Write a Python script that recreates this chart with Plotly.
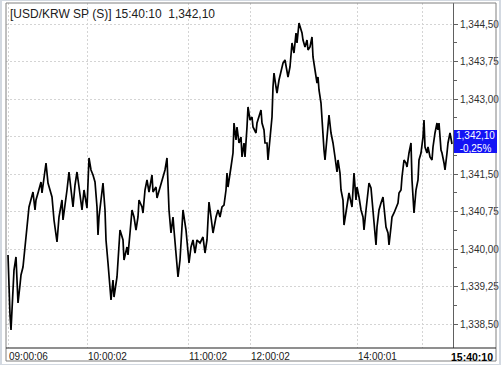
import plotly.graph_objects as go

# ---- data (tick number, price), per session block ----
seg_0900 = [(0,1339.88),(1,1339.18),(2,1338.68),(3,1338.38),(4,1338.78),(5,1339.28),(6,1339.58),(8,1339.84),(9,1339.38),(10,1338.92),(12,1339.28),(13,1339.48),(15,1339.64),(17,1339.98),(19,1340.44),(21,1340.84),(23,1340.98),(25,1341.14),(27,1340.78),(28,1340.98),(30,1341.12),(33,1341.34),(34,1341.12),(36,1341.38),(38,1341.72),(40,1341.32),(42,1341.18),(44,1341.04),(46,1340.58),(49,1340.14),(51,1340.64),(54,1340.98),(55,1340.58),(57,1340.84),(59,1341.18),(61,1341.54),(64,1341.04),(65,1340.84),(67,1341.28),(69,1341.54),(71,1341.24),(74,1340.78),(76,1341.18)]
seg_1000 = [(79,1340.82),(81,1341.82),(83,1341.58),(85,1341.48),(87,1341.34),(89,1340.84),(90,1340.28),(91,1340.64),(93,1341.04),(95,1341.32),(97,1340.78),(98,1340.18),(100,1339.72),(102,1339.18),(103,1338.98),(105,1339.38),(106,1339.04),(109,1339.44),(110,1339.78),(112,1340.38),(115,1340.18),(116,1339.78),(119,1340.04),(120,1339.88),(122,1340.32),(124,1340.78),(126,1340.64),(128,1340.38),(130,1340.64),(131,1340.98),(134,1340.84),(135,1340.72),(137,1341.18),(139,1341.38),(141,1341.14),(144,1341.48),(145,1341.14),(148,1341.24),(149,1341.02),(152,1341.24),(155,1341.48),(157,1341.58),(159,1341.82),(160,1341.18),(161,1340.78),(163,1340.32),(165,1340.64),(166,1340.38),(168,1339.92),(169,1339.64),(170,1339.44),(172,1339.78),(174,1340.38),(175,1340.78),(178,1340.38),(179,1340.18)]
seg_1100 = [(181,1339.72),(183,1340.04),(185,1340.18),(187,1339.92),(189,1340.18),(192,1340.12),(195,1340.24),(197,1339.92),(199,1340.18),(200,1340.58),(201,1340.94),(203,1340.64),(205,1340.32),(208,1340.64),(210,1340.78),(212,1340.64),(214,1340.84),(216,1340.88),(218,1341.18),(219,1341.52),(220,1341.24),(223,1341.64),(225,1341.92),(226,1342.52),(228,1342.18),(229,1342.44),(231,1342.12),(233,1342.24),(234,1341.84),(236,1342.12),(237,1341.84),(239,1342.44),(240,1342.84)]
seg_1200 = [(242,1342.58),(244,1342.64),(245,1342.44),(248,1342.32),(249,1342.52),(251,1342.64),(253,1342.78),(254,1342.52),(256,1342.38),(257,1342.12),(259,1342.12),(260,1341.78),(262,1342.24),(264,1342.64),(265,1343.24),(266,1343.52),(268,1343.24),(269,1343.12),(271,1343.38),(273,1343.58),(275,1343.72),(277,1343.78),(279,1343.58),(280,1343.44),(282,1343.64),(284,1344.12),(286,1343.92),(288,1344.32),(289,1344.12),(291,1344.52),(294,1344.32),(295,1344.18),(297,1344.04),(299,1344.18),(300,1343.98),(302,1344.04),(304,1344.24),(305,1343.84),(307,1343.58),(309,1343.32),(310,1343.44),(311,1343.18),(313,1342.92),(314,1342.58),(315,1342.18),(316,1341.98),(317,1341.78),(319,1342.32),(321,1342.68),(323,1342.32),(325,1342.12),(327,1341.84),(329,1341.54),(330,1341.78),(332,1341.52),(333,1341.18),(335,1340.98),(336,1340.48),(338,1340.72),(340,1340.98),(341,1341.12),(344,1340.84),(345,1341.32),(346,1341.52),(348,1340.98)]
seg_1400 = [(349,1341.24),(351,1341.04),(353,1340.78),(355,1340.64),(356,1340.38),(358,1340.78),(359,1340.98),(361,1341.32),(363,1341.22),(365,1340.78),(366,1340.52),(368,1340.08),(369,1340.44),(371,1340.78),(373,1340.92),(375,1341.04),(376,1340.84),(378,1340.44),(380,1340.32),(381,1340.08),(383,1340.44),(384,1340.64),(386,1340.72),(388,1340.84),(390,1340.92),(391,1341.12),(393,1341.18),(394,1341.44),(396,1341.78),(398,1341.72),(399,1341.64),(401,1341.92),(403,1342.12),(404,1341.38),(405,1341.04),(406,1340.72),(408,1341.18),(410,1341.38),(411,1341.78),(413,1341.92),(415,1342.24),(416,1342.58),(417,1342.04),(419,1341.92),(420,1342.04),(422,1341.84),(424,1341.78),(425,1342.04),(427,1342.32),(429,1342.52),(430,1342.38),(431,1342.52),(433,1341.98),(434,1341.92),(436,1341.72),(437,1341.58),(439,1341.92),(440,1342.12),(442,1342.32),(444,1342.10)]

x_tick_pos = [0, 79, 180, 242, 349, 414]
x_tick_text = ["09:00:06", "10:00:02", "11:00:02", "12:00:02", "14:00:01", ""]
last_time = "15:40:10"
last_price = 1342.10
last_change = "-0,25%"
title_text = "[USD/KRW SP (S)] 15:40:10\u00a0\u00a01,342,10"

y_tick_vals = [1338.50, 1339.25, 1340.00, 1340.75, 1341.50, 1342.25, 1343.00, 1343.75, 1344.50]
y_tick_text = ["1,338,50", "1,339,25", "1,340,00", "1,340,75", "1,341,50", "", "1,343,00", "1,343,75", "1,344,50"]

pts = seg_0900 + seg_1000 + seg_1100 + seg_1200 + seg_1400
xs = [p[0] for p in pts]
ys = [p[1] for p in pts]

FONT = "Liberation Sans"
W, H = 501, 365
ML, MR, MT, MB = 6, 48, 3, 17
PW = W - ML - MR
PH = H - MT - MB

def px(xp):
    return (xp - ML) / PW

def py(yp):
    return (H - MB - yp) / PH

fig = go.Figure()
fig.add_trace(go.Scatter(x=xs, y=ys, mode="lines",
                         line=dict(color="#000000", width=1.7),
                         hoverinfo="skip", showlegend=False))

shapes = [
    dict(type="rect", xref="paper", yref="paper", x0=px(2), x1=px(499), y0=py(364), y1=py(1),
         fillcolor="white", line=dict(width=0), layer="below"),
    dict(type="rect", xref="paper", yref="paper", x0=px(6), x1=px(496), y0=py(361), y1=py(3),
         fillcolor="rgba(0,0,0,0)", line=dict(color="#808080", width=1), layer="above"),
    dict(type="line", xref="paper", yref="paper", x0=0, x1=px(496), y0=0, y1=0,
         line=dict(color="#202020", width=1.2), layer="above"),
    dict(type="rect", xref="paper", yref="y", x0=px(454), x1=px(497), y0=1341.92, y1=1342.38,
         fillcolor="#1414f5", line=dict(width=0), layer="above"),
]

annotations = [
    dict(text=title_text, xref="paper", yref="paper", x=0, y=1, xanchor="left", yanchor="top",
         xshift=2, yshift=-2, showarrow=False, font=dict(family=FONT, size=12, color="#202020")),
    dict(text="1,342,10<br>" + last_change, xref="paper", yref="y", x=px(475.5), y=1342.15,
         xanchor="center", yanchor="middle", showarrow=False, align="center",
         font=dict(family=FONT, size=10, color="white")),
    dict(text="<b>" + last_time + "</b>", xref="paper", yref="paper", x=px(496), y=0,
         xanchor="right", yanchor="top", yshift=-1, xshift=-1, showarrow=False,
         font=dict(family=FONT, size=10.5, color="#000000")),
]
for tp, tt in zip(x_tick_pos, x_tick_text):
    if tt:
        annotations.append(dict(text=tt, xref="x", yref="paper", x=tp, y=0, xanchor="left",
                                yanchor="top", yshift=-1, xshift=-1, showarrow=False,
                                font=dict(family=FONT, size=10, color="#202020")))

GRID = "#d4d4d4"
fig.update_layout(
    width=W, height=H,
    margin=dict(l=ML, r=MR, t=MT, b=MB, pad=0),
    paper_bgcolor="#d3d9e1",
    plot_bgcolor="white",
    shapes=shapes,
    annotations=annotations,
    showlegend=False,
    xaxis=dict(range=[-2, 445], tickvals=x_tick_pos, showticklabels=False, ticks="",
               showgrid=True, gridcolor=GRID, griddash="2px,2px", gridwidth=1,
               zeroline=False, showline=False, fixedrange=True),
    yaxis=dict(range=[1338.02, 1344.92], side="right", tickvals=y_tick_vals, ticktext=y_tick_text,
               ticks="outside", ticklen=4, tickcolor="#606060", tickwidth=1,
               tickfont=dict(family=FONT, size=10, color="#303030"),
               showgrid=True, gridcolor=GRID, griddash="2px,2px", gridwidth=1,
               minor=dict(tickvals=[v + 0.375 for v in y_tick_vals[:-1]], ticks="outside",
                          ticklen=3, tickcolor="#606060", showgrid=False),
               showline=True, linecolor="#606060", linewidth=1, mirror=False,
               zeroline=False, fixedrange=True),
)

fig.write_html("out.html", config={"displayModeBar": False})
